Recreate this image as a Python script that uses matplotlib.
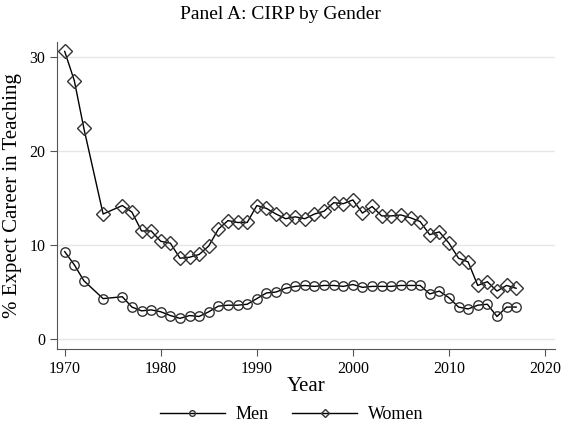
import matplotlib
matplotlib.use("Agg")
import matplotlib.pyplot as plt

years = [1970, 1971, 1972, 1974, 1976, 1977, 1978, 1979, 1980, 1981, 1982, 1983, 1984,
         1985, 1986, 1987, 1988, 1989, 1990, 1991, 1992, 1993, 1994, 1995, 1996, 1997,
         1998, 1999, 2000, 2001, 2002, 2003, 2004, 2005, 2006, 2007, 2008, 2009, 2010,
         2011, 2012, 2013, 2014, 2015, 2016, 2017]
women = [30.6, 27.5, 22.4, 13.3, 14.2, 13.5, 11.5, 11.5, 10.4, 10.2, 8.6, 8.7, 9.0,
         9.9, 11.7, 12.6, 12.4, 12.4, 14.2, 13.9, 13.3, 12.8, 13.0, 12.8, 13.3, 13.6,
         14.5, 14.4, 14.8, 13.4, 14.1, 13.1, 13.1, 13.2, 12.9, 12.5, 11.1, 11.4, 10.2,
         8.6, 8.2, 5.7, 6.1, 5.1, 5.7, 5.4]
men = [9.3, 7.9, 6.2, 4.3, 4.5, 3.4, 3.0, 3.1, 2.9, 2.5, 2.2, 2.5, 2.4,
       2.9, 3.5, 3.6, 3.6, 3.7, 4.3, 4.9, 5.0, 5.4, 5.6, 5.7, 5.6, 5.7,
       5.7, 5.6, 5.8, 5.5, 5.6, 5.6, 5.6, 5.7, 5.7, 5.7, 4.8, 5.1, 4.4,
       3.4, 3.2, 3.6, 3.7, 2.4, 3.4, 3.4]
xticks = [1970, 1980, 1990, 2000, 2010, 2020]
yticks = [0, 10, 20, 30]

plt.rcParams['font.family'] = ['Liberation Serif', 'DejaVu Serif']

fig = plt.figure(figsize=(5.61, 4.33), dpi=100)
ax = fig.add_axes([0.1016, 0.194, 0.887, 0.709])

ax.plot(years, men, color='black', lw=1.0, marker='o', ms=6.8, mfc='none',
        mec='#333333', mew=1.0, label='Men')
ax.plot(years, women, color='black', lw=1.0, marker='D', ms=6.8, mfc='none',
        mec='#333333', mew=1.0, label='Women')

ax.set_xlim(1969.2, 2021.0)
ax.set_ylim(-1.06, 31.6)
ax.set_xticks(xticks)
ax.set_yticks(yticks)
ax.yaxis.grid(True, color='#e6e6e6', lw=1.0)
ax.set_axisbelow(True)
for s in ['top', 'right']:
    ax.spines[s].set_visible(False)
for s in ['left', 'bottom']:
    ax.spines[s].set_color('#555555')
    ax.spines[s].set_linewidth(0.8)
ax.tick_params(direction='out', length=5, width=0.8, color='#555555', labelsize=11.5)
ax.set_xlabel('Year', fontsize=15, labelpad=0)
ax.set_ylabel('% Expect Career in Teaching', fontsize=15, labelpad=5)
fig.suptitle('Panel A: CIRP by Gender', fontsize=14, y=0.985)

leg = fig.legend(loc='center', bbox_to_anchor=(0.52, 0.043), ncol=2, frameon=False,
                 fontsize=13, markerscale=0.6, handlelength=3.6, columnspacing=1.3,
                 handletextpad=0.6)

fig.savefig('out.png', dpi=100)
